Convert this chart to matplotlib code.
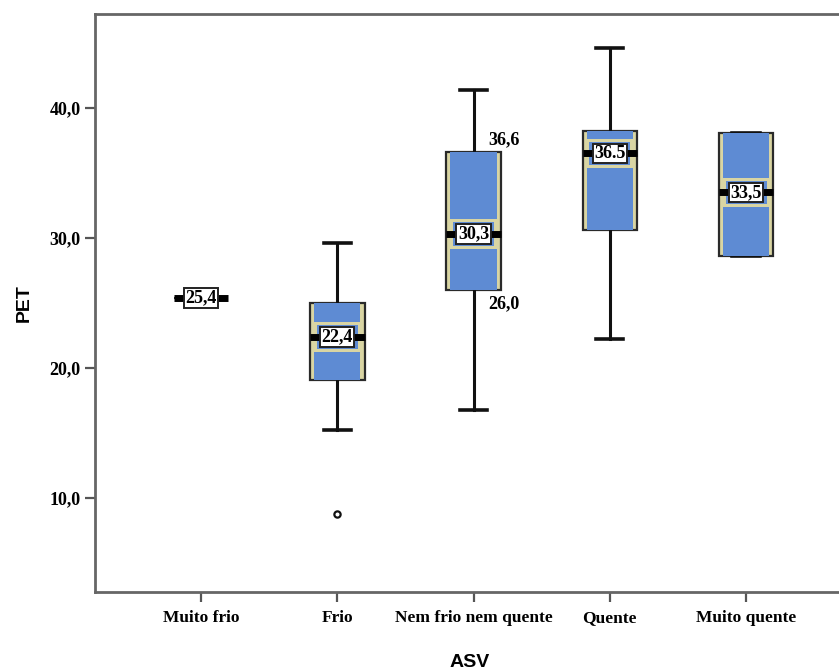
import matplotlib.pyplot as plt
from matplotlib.patches import Rectangle

categories = ['Muito frio', 'Frio', 'Nem frio nem quente', 'Quente', 'Muito quente']
q1 = [25.4, 19.1, 26.0, 30.6, 28.6]
med = [25.4, 22.4, 30.3, 36.5, 33.5]
q3 = [25.4, 25.0, 36.6, 38.2, 38.1]
whislo = [25.4, 15.2, 16.8, 22.2, 28.6]
whishi = [25.4, 29.6, 41.4, 44.6, 38.1]
fliers = [[], [8.8], [], [], []]
med_labels = ['25,4', '22,4', '30,3', '36.5', '33,5']
yticks = [10, 20, 30, 40]
ytick_labels = ['10,0', '20,0', '30,0', '40,0']

blue = '#5e8bd3'
khaki = '#d9d5a3'
edge = '#2a2a2a'
serif = ['Liberation Serif', 'DejaVu Serif']
sans = ['Liberation Sans', 'DejaVu Sans']

fig = plt.figure(figsize=(8.39, 6.70), dpi=100)
ax = fig.add_axes([95 / 839, 78 / 670, 750 / 839, 578 / 670])

pos = list(range(1, len(categories) + 1))
stats = []
for i in range(len(categories)):
    stats.append(dict(med=med[i], q1=q1[i], q3=q3[i], whislo=whislo[i],
                      whishi=whishi[i], fliers=fliers[i], label=categories[i]))

# outer box: khaki band with dark outline
ax.bxp(stats, positions=pos, widths=0.4, patch_artist=True, showcaps=True,
       boxprops=dict(facecolor=khaki, edgecolor=edge, linewidth=1.6),
       whiskerprops=dict(color='#111111', linewidth=2.2),
       capprops=dict(color='#111111', linewidth=2.6),
       medianprops=dict(color='none'),
       flierprops=dict(marker='o', markersize=4.5, markerfacecolor='none',
                       markeredgecolor='#111111', markeredgewidth=1.6),
       manage_ticks=False, zorder=2)
# inner blue fill
inner = [dict(s, whislo=s['q1'], whishi=s['q3'], fliers=[]) for s in stats]
ax.bxp(inner, positions=pos, widths=0.34, patch_artist=True, showcaps=False,
       boxprops=dict(facecolor=blue, edgecolor='none', linewidth=0),
       whiskerprops=dict(color='none'), medianprops=dict(color='none'),
       manage_ticks=False, zorder=3)

for i, p in enumerate(pos):
    h = q3[i] - q1[i]
    if h > 0:
        # khaki outline around the median label
        top = min(med[i] + 1.15, q3[i] - 0.35)
        bot = max(med[i] - 1.15, q1[i] + 0.35)
        ax.add_patch(Rectangle((p - 0.17, bot), 0.34, top - bot, facecolor=khaki,
                               edgecolor='none', zorder=4))
        ax.add_patch(Rectangle((p - 0.15, bot + 0.25), 0.30, top - bot - 0.5,
                               facecolor=blue, edgecolor='none', zorder=4))
    ax.plot([p - 0.2, p + 0.2], [med[i], med[i]], color='black', linewidth=5,
            solid_capstyle='butt', zorder=5)
    ax.text(p, med[i], med_labels[i], ha='center', va='center', fontsize=13,
            fontweight='bold', family=serif, zorder=6,
            bbox=dict(boxstyle='square,pad=0.08', facecolor='white',
                      edgecolor='#222222', linewidth=1.4))

# quartile labels for the middle category
ax.text(3.11, q3[2] + 0.3, '36,6', ha='left', va='bottom', fontsize=13,
        fontweight='bold', family=serif)
ax.text(3.11, q1[2] - 0.4, '26,0', ha='left', va='top', fontsize=13,
        fontweight='bold', family=serif)

ax.set_xlim(0.222, 5.726)
ax.set_ylim(2.77, 47.23)
ax.set_xticks(pos)
ax.set_xticklabels(categories, fontsize=12.5, fontweight='bold', family=serif)
ax.set_yticks(yticks)
ax.set_yticklabels(ytick_labels, fontsize=13, fontweight='bold', family=serif)
ax.tick_params(axis='both', direction='out', length=7, width=1.6, color='#555555')
ax.tick_params(axis='x', pad=6)

for side in ['left', 'top', 'bottom']:
    ax.spines[side].set_color('#666666')
    ax.spines[side].set_linewidth(2)
ax.spines['right'].set_visible(False)

ax.set_ylabel('PET', fontsize=14, fontweight='bold', family=sans, labelpad=12)
ax.set_xlabel('ASV', fontsize=14, fontweight='bold', family=sans, labelpad=20)

fig.savefig('out.png', dpi=100)
